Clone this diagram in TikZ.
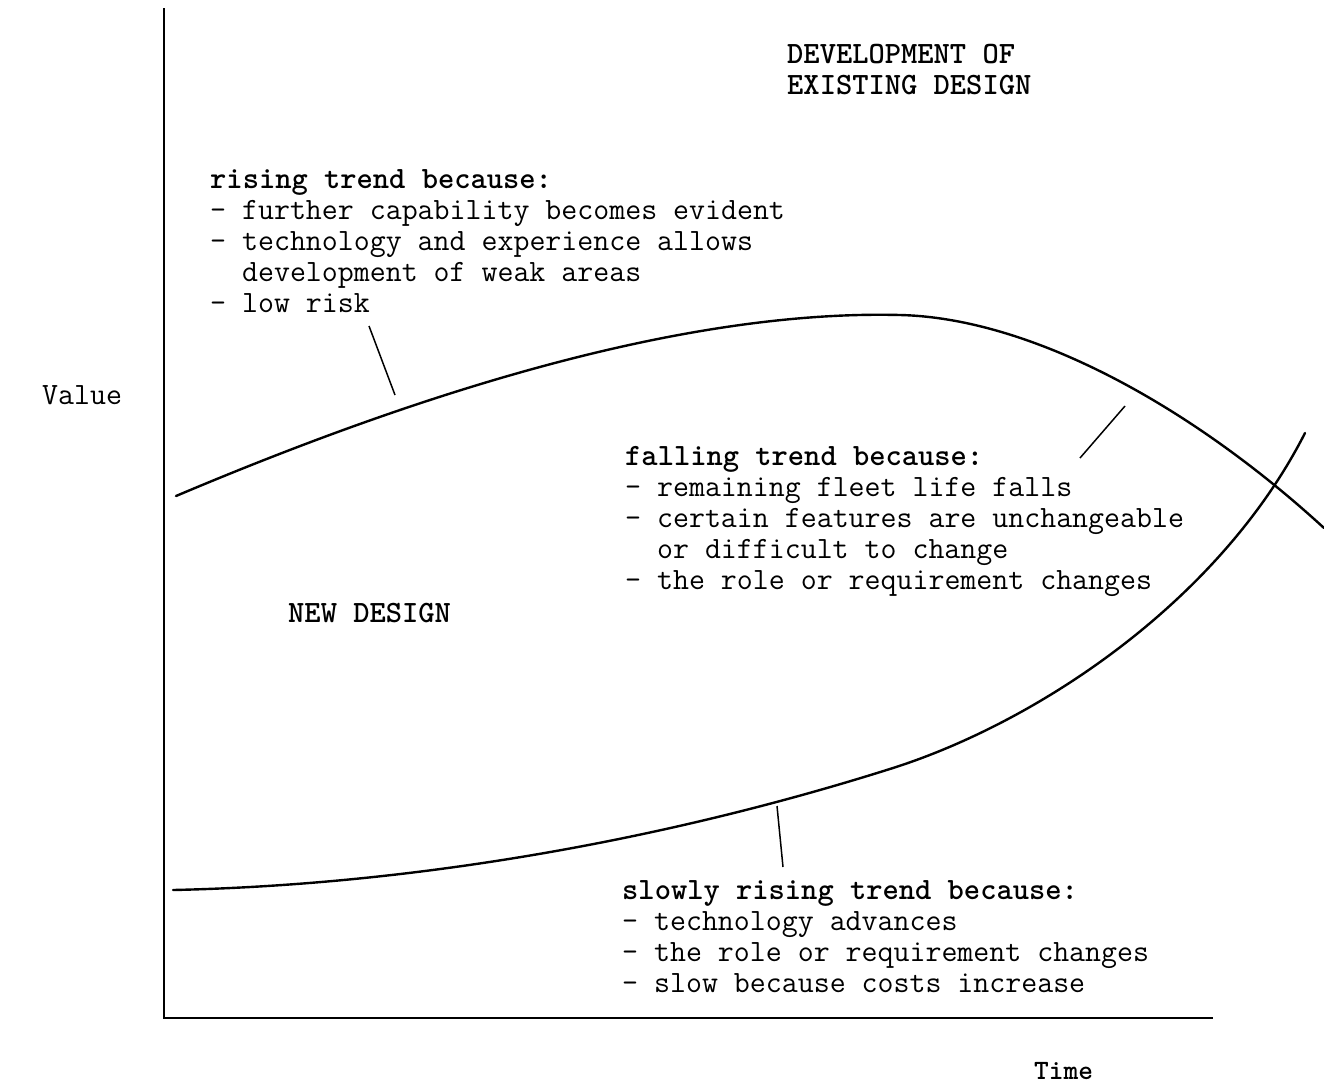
\documentclass[tikz,border=0pt]{standalone}
\usepackage{fontspec}
\newcommand\blockof[1]{\begin{tabular}[t]{@{}l@{}}#1\end{tabular}}
\begin{document}
\begin{tikzpicture}[x=1pt,y=-1pt,
  txt/.style={inner sep=0pt, anchor=base west, font=\ttfamily\fontsize{31}{31}\selectfont},
  capslbl/.style={inner sep=0pt, anchor=base west, font=\ttfamily\bfseries\fontsize{31}{31}\selectfont},
  curve/.style={line width=2.4pt, line join=round, line cap=round},
  axis/.style={line width=1.6pt},
  leader/.style={line width=1.5pt}]
\useasboundingbox (0,0) rectangle (1324,1085);

% axes
\coordinate (top) at (164,8);
\coordinate (origin) at (164,1018);
\coordinate (xend) at (1213,1018);
\draw[axis] (top) -- (origin) -- (xend);

% labels
\node[txt] (value) at (42,404) {Value};
\node[capslbl, font=\ttfamily\bfseries\fontsize{28}{28}\selectfont] (time) at (1034,1079) {Time};
\node[capslbl] (dev) at (787,63) {\blockof{DEVELOPMENT OF\\EXISTING DESIGN}};
\node[capslbl] (newd) at (288,622) {NEW DESIGN};

\node[txt] (rising) at (210,188) {\blockof{\textbf{rising trend because:}\\
– further capability becomes evident\\
– technology and experience allows\\
\phantom{––}development of weak areas\\
– low risk}};

\node[txt] (falling) at (625,465) {\blockof{\textbf{falling trend because:}\\
– remaining fleet life falls\\
– certain features are unchangeable\\
\phantom{––}or difficult to change\\
– the role or requirement changes}};

\node[txt] (slowly) at (622,899) {\blockof{\textbf{slowly rising trend because:}\\
– technology advances\\
– the role or requirement changes\\
– slow because costs increase}};

% curves
\coordinate (u0) at (176,496);
\coordinate (u1) at (900,315);
\coordinate (u2) at (1324,528);
\draw[curve] (u0) .. controls (450,380) and (700,310) .. (u1)
                  .. controls (1030,318) and (1190,405) .. (u2);
\coordinate (n0) at (173,890);
\coordinate (n1) at (893,768);
\coordinate (n2) at (1305,433);
\draw[curve] (n0) .. controls (400,885) and (650,845) .. (n1)
                  .. controls (1040,721) and (1220,600) .. (n2);

% leader lines
\coordinate (l1a) at (369,326); \coordinate (l1b) at (395,395);
\coordinate (l2a) at (1080,458); \coordinate (l2b) at (1125,406);
\coordinate (l3a) at (777,806); \coordinate (l3b) at (783,867);
\draw[leader] (l1a) -- (l1b);
\draw[leader] (l2a) -- (l2b);
\draw[leader] (l3a) -- (l3b);
\end{tikzpicture}
\end{document}
